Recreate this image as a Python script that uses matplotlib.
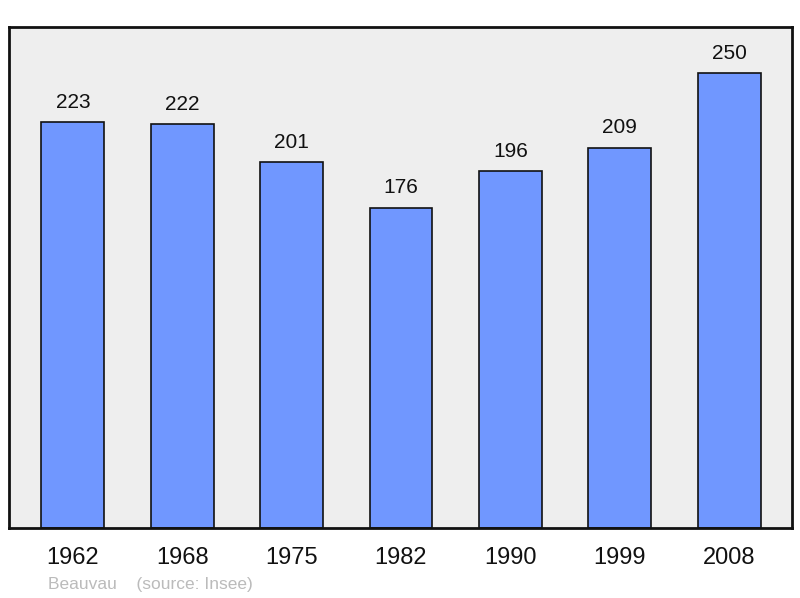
import matplotlib
matplotlib.use("Agg")
import matplotlib.pyplot as plt

years = ["1962", "1968", "1975", "1982", "1990", "1999", "2008"]
population = [223, 222, 201, 176, 196, 209, 250]

plt.rcParams['font.family'] = ['Liberation Sans', 'DejaVu Sans']

fig = plt.figure(figsize=(8, 5.98), dpi=100)
ax = fig.add_axes([0.01125, 0.117, 0.97875, 0.838])
ax.set_facecolor('#EEEEEE')

x = list(range(len(years)))
ax.bar(x, population, width=0.576, color='#7097FF',
       edgecolor='#111111', linewidth=1.2, zorder=2)
for xi, v in zip(x, population):
    ax.annotate(str(v), (xi, v), xytext=(0, 7.5), textcoords='offset points',
                ha='center', va='bottom', fontsize=15, color='#111111')

ax.set_xlim(-0.585, 6.576)
ax.set_ylim(0, 275.3)
ax.set_yticks([])
ax.set_xticks(x)
ax.set_xticklabels(years, fontsize=17, color='#111111')
ax.tick_params(axis='x', length=0, pad=14)
for s in ax.spines.values():
    s.set_linewidth(2)
    s.set_color('#111111')

fig.text(48/800, 1 - 585/598, "Beauvau    (source: Insee)", fontsize=12.5, color='#BBBBBB',
         ha='left', va='center')

fig.savefig("out.png", dpi=100)
